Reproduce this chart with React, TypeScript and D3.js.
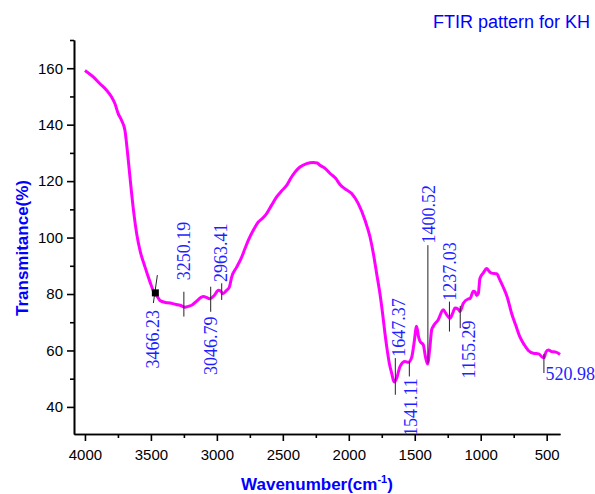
import React, { useEffect, useRef } from 'react';
import * as d3 from 'd3';

// FTIR spectrum
const wavenumbers = [
  4000, 3937, 3886, 3836, 3798, 3773, 3748, 3722, 3697, 3679, 3664, 3646, 3629, 3608, 3583, 3545,
  3507, 3477, 3450, 3431, 3390, 3356, 3310, 3280, 3240, 3217, 3185, 3153, 3120, 3103, 3070, 3052,
  3020, 2989, 2970, 2956, 2926, 2905, 2888, 2850, 2812, 2787, 2762, 2724, 2686, 2650, 2623, 2585,
  2547, 2510, 2471, 2440, 2408, 2370, 2320, 2269, 2240, 2218, 2180, 2142, 2100, 2067, 2030, 1978,
  1928, 1877, 1839, 1814, 1789, 1764, 1744, 1726, 1709, 1693, 1675, 1657, 1637, 1612, 1574, 1549,
  1523, 1506, 1486, 1472, 1460, 1435, 1420, 1403, 1385, 1372, 1360, 1322, 1284, 1260, 1233, 1210,
  1195, 1170, 1157, 1132, 1094, 1081, 1056, 1043, 1031, 1018, 1006, 980, 955, 935, 917, 879,
  855, 829, 800, 765, 735, 702, 670, 639, 601, 560, 533, 520, 505, 488, 462, 430, 412, 399,
];
const transmittance = [
  159.2, 156.9, 154.5, 152.2, 149.8, 147.5, 143.9, 141.5, 138.0, 130.9, 123.9, 115.6, 108.5, 101.4, 95.5, 89.6,
  84.3, 80.6, 79.0, 77.7, 77.0, 76.8, 76.3, 76.0, 75.3, 75.6, 76.2, 77.5, 78.8, 79.1, 78.6, 78.3,
  79.5, 81.3, 81.0, 80.1, 81.3, 82.5, 86.0, 89.5, 93.1, 96.1, 99.0, 102.6, 105.5, 107.0, 108.5, 111.5,
  114.4, 116.5, 118.5, 121.0, 123.2, 125.0, 126.2, 126.6, 126.4, 125.6, 124.5, 122.7, 121.0, 118.8, 117.3, 115.6,
  112.0, 106.1, 100.2, 94.4, 87.3, 80.2, 73.2, 66.1, 60.2, 55.5, 52.0, 48.8, 50.2, 54.3, 56.1, 55.8,
  57.6, 62.4, 68.6, 65.0, 63.2, 62.0, 58.0, 55.2, 61.2, 67.3, 68.5, 70.9, 74.4, 72.8, 71.4, 73.5,
  75.0, 74.6, 73.8, 76.7, 78.3, 78.4, 81.0, 80.8, 79.5, 80.2, 85.5, 87.5, 89.0, 88.0, 87.4, 87.2,
  85.0, 82.4, 79.0, 73.0, 69.0, 64.7, 62.0, 60.0, 59.0, 58.8, 57.6, 57.4, 59.5, 60.2, 59.6, 59.4, 59.0, 58.6,
];

// peak labels
const peakWavenumbers = [3466.23, 3250.19, 3046.79, 2963.41, 1647.37, 1541.11, 1400.52, 1237.03, 1155.29, 520.98];
const peakLineTop = [86.7, 80.8, 82.6, 83.8, 57.3, 56.1, 97.3, 77.3, 75.8, 58.8];
const peakLineBottom = [76.8, 72.0, 73.7, 77.9, 44.3, 50.8, 55.5, 66.7, 67.9, 52.0];
const peakLabelAt = [74.3, 84.9, 72.0, 84.3, 57.8, 50.2, 97.9, 77.6, 70.6, 49.4];
const peakLabelSide = ['below', 'above', 'below', 'above', 'above', 'below', 'above', 'above', 'below', 'right'];
const peakMarkerValue = 80.4;

const xTicks = [4000, 3500, 3000, 2500, 2000, 1500, 1000, 500];
const xMinorTicks = [3750, 3250, 2750, 2250, 1750, 1250, 750];
const yTicks = [40, 60, 80, 100, 120, 140, 160];
const yMinorTicks = [50, 70, 90, 110, 130, 150, 170];

const W = 595, H = 494;
const left = 74, right = 560, top = 40, bottom = 434;
const labelDx = [-2.3, 0, 0, -0.6, 3.7, 1.7, 0.7, 1, 9, 1.6];

export default function App() {
  const xAxisRef = useRef<SVGGElement>(null);
  const yAxisRef = useRef<SVGGElement>(null);

  const x = d3.scaleLinear().domain([4083, 399]).range([left, right]);
  const y = d3.scaleLinear().domain([30.4, 170]).range([bottom, top]);

  useEffect(() => {
    const font = 'Liberation Sans, Arial, sans-serif';
    const gx = d3.select(xAxisRef.current);
    gx.selectAll('*').remove();
    gx.append('g').call(d3.axisBottom(x).tickValues(xMinorTicks).tickSize(4).tickSizeOuter(0).tickFormat(() => ''));
    gx.append('g').call(d3.axisBottom(x).tickValues(xTicks).tickSize(7).tickSizeOuter(0).tickPadding(8).tickFormat(d3.format('d')));
    const gy = d3.select(yAxisRef.current);
    gy.selectAll('*').remove();
    gy.append('g').call(d3.axisLeft(y).tickValues(yMinorTicks).tickSize(4).tickSizeOuter(0).tickFormat(() => ''));
    gy.append('g').call(d3.axisLeft(y).tickValues(yTicks).tickSize(7).tickSizeOuter(0).tickPadding(4).tickFormat(d3.format('d')));
    [gx, gy].forEach(g => {
      g.selectAll('path, line').attr('stroke', '#000').attr('stroke-width', 1.6);
      g.selectAll('text').attr('font-family', font).attr('font-size', 15).attr('fill', '#000');
    });
  }, []);

  const points = wavenumbers.map((w, i) => [w, transmittance[i]] as [number, number]);
  const line = d3.line<[number, number]>()
    .x(d => x(d[0]))
    .y(d => y(d[1]))
    .curve(d3.curveMonotoneX);

  const peakColor = '#1f1fff';
  const peakFont = 'Liberation Serif, Times New Roman, serif';

  return (
    <svg width={W} height={H} style={{ position: 'absolute', left: 0, top: 0, background: '#fff' }}>
      <rect width={W} height={H} fill="#fff" />
      <g ref={xAxisRef} transform={`translate(0,${bottom})`} />
      <g ref={yAxisRef} transform={`translate(${left},0)`} />

      <path d={line(points) || ''} fill="none" stroke="#ff00ff" strokeWidth={3} strokeLinejoin="round" />

      {peakWavenumbers.map((w, i) => {
        const cx = x(w);
        const tilt = i === 0 ? 2 : 0;
        const side = peakLabelSide[i];
        const ly = y(peakLabelAt[i]);
        let label;
        if (side === 'right') {
          label = (
            <text x={cx + labelDx[i]} y={ly} fontFamily={peakFont} fontSize={18} fill={peakColor}>
              {w.toFixed(2)}
            </text>
          );
        } else {
          label = (
            <text
              transform={`translate(${cx + labelDx[i]},${ly}) rotate(-90)`}
              textAnchor={side === 'above' ? 'start' : 'end'}
              dominantBaseline="central"
              fontFamily={peakFont}
              fontSize={18}
              fill={peakColor}
            >
              {w.toFixed(2)}
            </text>
          );
        }
        return (
          <g key={i}>
            <line
              x1={cx + tilt} y1={y(peakLineTop[i])}
              x2={cx - tilt} y2={y(peakLineBottom[i])}
              stroke="#222" strokeWidth={1}
            />
            {label}
          </g>
        );
      })}
      <rect x={x(peakWavenumbers[0]) - 3.5} y={y(peakMarkerValue) - 3.5} width={7} height={7} fill="#000" />

      <text x={590} y={28} textAnchor="end" fontFamily="Liberation Sans, Arial, sans-serif" fontSize={18} fill="#0000ff">
        FTIR pattern for KH
      </text>
      <text
        transform={`translate(27.5,${(top + bottom) / 2 + 11}) rotate(-90)`}
        textAnchor="middle"
        fontFamily="Liberation Sans, Arial, sans-serif"
        fontWeight="bold"
        fontSize={17}
        fill="#0000ff"
      >
        Transmitance(%)
      </text>
      <text x={(left + right) / 2} y={490} textAnchor="middle" fontFamily="Liberation Sans, Arial, sans-serif" fontWeight="bold" fontSize={17} fill="#0000ff">
        Wavenumber(cm<tspan fontSize={11} dy={-7}>-1</tspan><tspan dy={7}>)</tspan>
      </text>
    </svg>
  );
}
